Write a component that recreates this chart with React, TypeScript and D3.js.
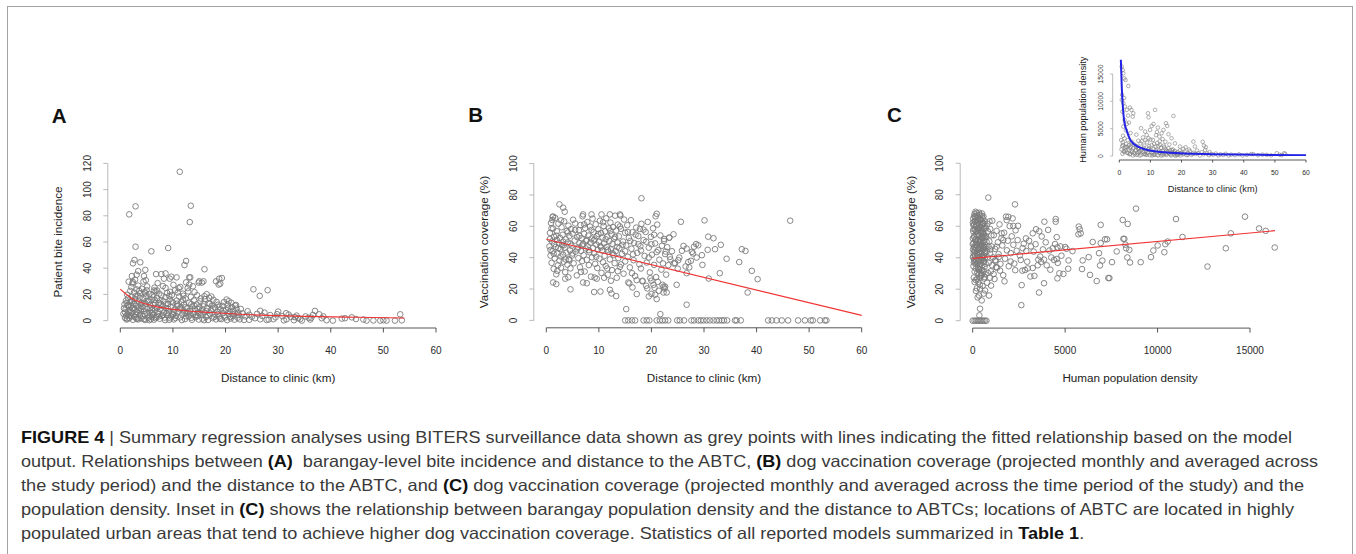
import React, { useEffect, useRef } from 'react';
import * as d3 from 'd3';

type Pt = [number, number];

// ---- axis ticks ----
const distTicks = [0, 10, 20, 30, 40, 50, 60];
const biteTicks = [0, 20, 40, 60, 80, 100, 120];
const coverTicks = [0, 20, 40, 60, 80, 100];
const densTicks = [0, 5000, 10000, 15000];

// ---- A: bite incidence vs distance ----
const bitePoints: Pt[] = [
  [11.3, 113.6], [2.9, 87.2], [1.7, 81.1], [13.4, 87.7], [13.2, 75.2], [2.9, 56.4], [5.9, 52.9], [9.1, 55.4],
  [2.7, 46.3], [2.4, 43.7], [3.8, 44.5], [4.75, 38.7], [12.5, 45.5], [12.2, 42.4], [16.0, 39.2], [8.6, 36],
  [7.8, 35.5], [10.7, 33], [9.4, 32], [13.1, 33], [18.8, 32], [18.2, 30], [18.7, 27.5], [14.9, 29], [15.5, 29],
  [25.3, 23.9], [26.5, 18.9], [28.0, 23.2], [3.4, 37.8], [3.1, 35], [2.2, 34], [4.5, 34], [4.85, 30.8], [1.6, 29.7],
  [2.4, 29.5], [6.8, 35.5], [8.3, 32], [9.7, 33.5], [12.5, 29.2], [13.3, 33], [13.1, 27.5], [15.0, 30], [15.8, 30],
  [19.3, 32.5], [19.0, 28.2], [16.0, 18.6], [16.9, 17.3], [20.6, 14.8], [21.8, 11.5], [7.0, 23], [6.4, 23],
  [8.6, 25], [9.5, 22], [11.1, 24.8],
  [53.2, 4.8], [53.5, 0.2], [52.2, 0], [50.6, 0], [50.0, 0.3], [49.4, 0], [48.1, 0.1], [46.8, 0], [46.2, 0.8],
  [44.8, 1.2], [44.0, 2.5], [42.7, 1.8], [42.1, 1.5], [40.4, 0], [39.2, 0.3], [38.3, 1.8], [37.0, 7.4], [36.6, 4.3],
  [36.1, 0.8], [34.5, 0], [33.8, 1.8], [33.2, 2.6], [32.4, 2.8], [31.6, 1.0], [31.5, 5.6], [30.0, 6.9], [29.1, 1.1],
  [27.8, 0.5], [26.6, 7.5], [26.6, 1], [25.6, 1.8], [24.5, 4.5], [24.5, 0.6], [27.0, 3.5], [28.5, 4.2], [29.5, 2.5],
  [30.8, 3.4], [32.0, 4.6], [33.5, 3.8], [34.2, 1.2], [35.2, 3.2], [35.8, 2.1], [37.8, 4.8], [38.6, 3.2], [36.3, 2.2],
  [31.1, 0.2], [28.2, 0.8], [26.0, 5.2], [25.0, 2.9], [27.4, 6.1], [29.8, 4.9], [33.0, 0.3], [23.8, 3.2], [24.2, 7.2],
  [23.5, 0.5], [22.9, 8.9], [23.2, 5.5],
  [0.6, 5.2], [0.8, 12.4], [0.9, 2.1], [1.0, 8.7], [1.1, 15.3], [1.2, 0.8], [1.3, 19.8], [1.4, 4.6], [1.5, 10.9],
  [1.6, 6.8], [1.7, 1.9], [1.8, 14.2], [1.9, 22.7], [2.0, 3.3], [1.2, 13.6], [0.7, 9.4], [1.5, 17.1], [1.9, 7.9],
  [2.0, 11.6], [1.1, 3.8], [2.1, 25.6], [2.2, 18.3], [2.3, 5.9], [2.4, 0.6], [2.5, 13.1], [2.6, 21.4], [2.7, 8.2],
  [2.8, 16.5], [2.9, 2.7], [3.0, 11.3], [3.1, 23.8], [3.2, 6.4], [3.3, 19.1], [3.4, 0.9], [3.5, 14.6], [3.6, 9.7],
  [3.7, 4.2], [3.8, 20.9], [3.9, 12.3], [4.0, 1.6], [2.3, 28.4], [2.8, 31.2], [3.4, 26.7], [3.7, 17.6], [2.5, 9.9],
  [3.0, 4.8], [3.9, 7.2], [2.2, 14.9], [4.1, 24.3], [4.2, 10.5], [4.3, 3.4], [4.4, 16.8], [4.5, 7.3], [4.6, 21.7],
  [4.7, 0.5], [4.8, 12.9], [4.9, 18.7], [5.0, 5.6], [5.1, 26.1], [5.2, 9.1], [5.3, 2.2], [5.4, 14.4], [5.5, 20.3],
  [5.6, 6.9], [5.7, 11.8], [5.8, 1.1], [5.9, 16.2], [6.0, 8.4], [4.4, 29.8], [5.0, 23.2], [4.6, 13.8], [5.6, 3.9],
  [6.1, 19.6], [6.2, 4.5], [6.3, 12.1], [6.4, 0.7], [6.5, 15.7], [6.6, 7.6], [6.7, 22.4], [6.8, 2.9], [6.9, 10.2],
  [7.0, 17.3], [7.2, 5.1], [7.4, 13.4], [7.5, 1.4], [7.6, 8.9], [7.8, 19.2], [7.9, 3.6], [8.0, 11.1], [8.2, 14.8],
  [8.3, 6.2], [8.5, 0.4], [8.6, 17.9], [8.7, 9.5], [8.9, 21.1], [9.0, 4.1], [6.5, 25.2], [7.1, 28.6], [8.1, 26.4],
  [7.7, 12.6], [9.1, 12.7], [9.2, 7.1], [9.4, 16.1], [9.5, 1.8], [9.6, 10.4], [9.8, 19.5], [9.9, 5.3], [10.0, 13.9],
  [10.2, 0.9], [10.3, 8.3], [10.4, 23.1], [10.6, 3.7], [10.7, 15.2], [10.9, 6.6], [11.0, 11.5], [11.2, 18.4],
  [11.3, 2.4], [11.5, 9.8], [11.6, 14.1], [11.8, 4.7], [11.9, 20.6], [12.0, 7.8], [10.1, 27.3], [11.4, 25.7],
  [9.7, 3.1], [10.8, 10.9], [12.1, 12.2], [12.3, 1.2], [12.4, 16.9], [12.6, 5.8], [12.7, 9.4], [12.9, 22.3],
  [13.0, 3.1], [13.1, 13.6], [13.3, 7.4], [13.4, 18.1], [13.6, 0.6], [13.7, 10.8], [13.9, 5.2], [14.0, 15.4],
  [14.2, 8.6], [14.3, 2.6], [14.5, 12.4], [14.6, 19.3], [14.8, 6.3], [14.9, 0.8], [15.0, 10.1], [12.8, 24.8],
  [13.8, 26.2], [14.4, 4.1], [15.2, 14.7], [15.3, 4.4], [15.5, 8.1], [15.6, 1.5], [15.8, 12.8], [16.0, 6.1],
  [16.1, 16.4], [16.3, 2.8], [16.5, 9.3], [16.7, 0.5], [16.8, 13.2], [17.0, 5.4], [17.2, 7.9], [17.4, 11.4],
  [17.5, 1.9], [17.7, 15.9], [17.9, 4.6], [18.0, 9.9], [18.2, 0.9], [18.4, 6.8], [18.6, 12.1], [18.8, 3.2],
  [19.0, 8.5], [16.4, 20.2], [17.3, 18.4], [19.2, 1.1], [19.4, 11.2], [19.5, 5.7], [19.7, 14.1], [19.9, 2.4],
  [20.1, 8.1], [20.3, 0.4], [20.4, 12.3], [20.6, 4.9], [20.8, 6.9], [21.0, 1.6], [21.2, 10.3], [21.4, 3.5],
  [21.5, 7.4], [21.7, 0.7], [21.9, 5.6], [22.1, 9.1], [22.3, 2.2], [22.5, 4.3], [22.7, 1.0], [21.1, 13.6],
  [20.2, 16.1], [22.4, 6.2], [1.3, 1.5], [2.6, 3.1], [3.3, 2.0], [4.5, 1.2], [5.5, 0.3], [6.7, 1.9], [7.3, 3.2],
  [8.4, 2.3], [9.3, 0.6], [10.5, 2.0], [11.7, 0.4], [12.5, 3.3], [13.5, 2.1], [14.7, 3.5], [15.9, 0.3], [16.6, 3.9],
  [17.8, 2.7], [18.9, 1.6], [19.8, 3.8], [20.9, 2.8], [6.0, 2.6], [8.8, 5.7], [12.2, 6.1], [15.1, 5.9], [2.0, 6.2],
  [4.0, 8.8], [7.0, 9.8], [10.0, 4.4], [13.2, 4.8], [18.5, 5.0],
  [0.9, 6.3], [1.4, 11.8], [1.8, 3.9], [2.3, 9.4], [2.7, 12.7], [3.1, 1.3], [3.5, 7.7], [4.1, 13.6], [4.6, 4.9],
  [5.2, 15.1], [5.6, 9.6], [6.1, 5.8], [6.6, 13.1], [7.1, 7.0], [7.6, 15.6], [8.1, 4.3], [8.6, 12.4], [9.1, 9.1],
  [9.7, 14.6], [10.2, 6.2], [10.8, 12.9], [11.3, 8.7], [11.9, 15.9], [12.4, 10.3], [12.9, 6.9], [13.5, 12.6],
  [14.1, 11.2], [14.7, 9.0], [15.3, 16.9], [15.8, 10.8], [16.4, 7.1], [17.0, 12.8], [17.6, 9.1], [18.3, 14.3],
  [18.8, 10.6], [19.6, 7.8], [20.5, 9.7], [21.3, 5.1], [22.0, 11.9], [2.9, 18.6], [4.8, 20.8], [6.3, 17.8],
  [9.3, 18.9], [12.0, 19.0], [14.1, 21.7], [3.6, 22.6], [7.4, 20.6], [10.9, 21.4],
];
const biteFit: Pt[] = [
  [0, 24], [1, 20.5], [2, 17.5], [3, 15.3], [5, 12.5], [7, 10.5], [10, 8.6], [13, 7.3], [17, 6.2],
  [22, 5.0], [28, 4.0], [35, 3.2], [45, 2.5], [54, 2.0],
];

// ---- B: vaccination coverage vs distance ----
const coverDistPoints: Pt[] = [
  [2.5, 74], [3.2, 71.9], [3.5, 69.3], [18.1, 77.9], [21, 68], [20.8, 66.4], [4.6, 19.8], [9.1, 18.1], [10.3, 18.4],
  [12.1, 19.5], [12.4, 17.2], [13.3, 15.5], [17.2, 16.8], [15.2, 7.2], [21.7, 4.0], [26.7, 10], [1.3, 24.2],
  [1.9, 23.2], [3.6, 26.6], [7.0, 24.2], [7.7, 23.7], [9.6, 26.6], [11.0, 27.2], [15.6, 24.2], [16.4, 21],
  [18.3, 25.3], [19.2, 20.4], [20.0, 25.3], [20.4, 22.7], [20.7, 16.4], [21.0, 13.6], [22.1, 22.7], [22.6, 21.5],
  [22.3, 17.8], [1.3, 66.2], [1.15, 64], [7.0, 67.6], [8.6, 67.6], [10.5, 67.6], [12.1, 67.6], [14.0, 67.6],
  [25.6, 62.9], [30.1, 63.8], [46.4, 63.6], [30.8, 53.4], [31.8, 52.4], [33.2, 48.2], [32.1, 45.4], [30.7, 45],
  [37.2, 45.4], [37.9, 44.3], [34.3, 39.3], [36.7, 37.2], [39.1, 31.6], [40.2, 26.3], [38.3, 17.8], [33.0, 30.1],
  [30.9, 26.7], [29.7, 35.4], [29.6, 41.6], [28.6, 40.1], [27.9, 42.7], [28.5, 48.7], [28.1, 47], [27, 37.2],
  [27.5, 38], [26.7, 30.1], [26.5, 34.4], [25.8, 44.4], [26.7, 45.8], [27.7, 43.7], [24.2, 54.9], [23.4, 52.8],
  [22.4, 50.7], [22.7, 43.9], [24.3, 36.3], [23.5, 40.5], [26.1, 47.5], [25, 33], [27.2, 33.8], [28.9, 47.9],
  [15.0, 0], [15.6, 0], [16.3, 0], [16.9, 0], [18.5, 0], [19.1, 0], [19.6, 0], [21.0, 0], [21.6, 0], [22.1, 0],
  [22.6, 0], [23.2, 0], [24.9, 0], [25.4, 0], [26.2, 0], [27.6, 0], [28.1, 0], [28.9, 0], [29.4, 0], [29.9, 0],
  [30.5, 0], [31.1, 0], [31.8, 0], [32.4, 0], [32.9, 0], [33.4, 0], [33.8, 0], [34.4, 0], [35.9, 0], [36.2, 0],
  [37.0, 0], [42.2, 0], [42.9, 0], [43.8, 0], [44.8, 0], [46.0, 0], [47.9, 0], [49.2, 0], [50.3, 0], [50.7, 0],
  [52.1, 0], [53.0, 0], [53.3, 0],
  [0.6, 47.2], [0.7, 55.8], [0.8, 41.3], [0.9, 62.1], [1.0, 36.7], [1.1, 50.4], [1.2, 44.1], [1.3, 58.6],
  [1.4, 32.9], [1.5, 53.2], [1.6, 39.5], [1.7, 65.3], [1.8, 46.8], [1.9, 29.4], [2.0, 56.9], [2.1, 42.6],
  [2.2, 35.1], [2.3, 61.7], [2.4, 49.3], [2.5, 38.2], [2.6, 52.7], [2.7, 45.5], [2.8, 33.6], [2.9, 59.4],
  [3.0, 48.1], [0.8, 44.9], [1.2, 66.1], [1.5, 48.6], [2.0, 51.3], [2.7, 40.8], [3.1, 54.6], [3.2, 41.9],
  [3.3, 37.4], [3.4, 63.2], [3.5, 46.3], [3.6, 30.8], [3.7, 51.7], [3.8, 43.2], [3.9, 57.1], [4.0, 35.6],
  [4.1, 49.8], [4.2, 60.4], [4.3, 39.1], [4.4, 53.9], [4.5, 44.7], [4.6, 33.2], [4.7, 58.2], [4.8, 47.6],
  [4.9, 41.4], [5.0, 55.3], [5.2, 36.4], [5.4, 50.9], [5.5, 61.8], [5.6, 43.9], [5.8, 28.7], [5.9, 53.1],
  [6.0, 46.5], [3.3, 47.9], [4.4, 38.3], [5.1, 64.2], [6.1, 39.7], [6.2, 57.6], [6.3, 49.2], [6.4, 33.9],
  [6.5, 60.8], [6.6, 44.3], [6.7, 52.4], [6.8, 37.8], [6.9, 66.4], [7.0, 48.7], [7.1, 41.6], [7.2, 55.2],
  [7.3, 31.2], [7.4, 58.9], [7.5, 45.9], [7.6, 50.6], [7.7, 38.6], [7.8, 62.7], [7.9, 47.1], [8.0, 54.1],
  [8.1, 35.3], [8.2, 43.5], [8.3, 59.9], [8.4, 49.6], [8.5, 27.9], [8.6, 52.2], [8.7, 40.2], [8.8, 64.9],
  [8.9, 46.2], [9.0, 56.3], [9.1, 42.8], [9.2, 51.6], [9.3, 36.1], [9.4, 61.3], [9.5, 48.4], [9.6, 53.7],
  [9.7, 33.4], [9.8, 45.1], [9.9, 58.1], [10.0, 50.1], [10.1, 39.4], [10.2, 63.6], [10.3, 47.4], [10.4, 55.7],
  [10.5, 30.3], [10.6, 44.6], [10.7, 52.9], [10.8, 37.1], [10.9, 60.2], [11.0, 49.1], [11.1, 41.2], [11.2, 56.8],
  [11.3, 34.7], [11.4, 65.1], [11.5, 46.9], [11.6, 53.4], [11.7, 29.1], [11.8, 43.8], [11.9, 58.7], [12.0, 50.6],
  [12.1, 38.9], [12.2, 62.4], [12.3, 45.3], [12.4, 54.8], [12.5, 32.1], [12.6, 48.9], [12.7, 59.5], [12.8, 41.8],
  [12.9, 52.1], [13.0, 36.5], [13.1, 66.8], [13.2, 44.2], [13.3, 57.3], [13.4, 27.2], [13.5, 49.7], [13.6, 61.1],
  [13.7, 39.8], [13.8, 53.6], [13.9, 46.1], [14.0, 34.1], [14.2, 58.4], [14.4, 42.4], [14.6, 50.3], [14.8, 64.3],
  [15.0, 37.6], [12.3, 25.3], [13.6, 31.4], [14.1, 66.9], [14.7, 29.8], [15.0, 55.9], [15.2, 47.8], [15.4, 60.7],
  [15.5, 40.6], [15.7, 52.6], [15.9, 33.8], [16.1, 63.9], [16.2, 45.7], [16.4, 56.2], [16.6, 38.4], [16.7, 49.4],
  [16.9, 28.3], [17.1, 59.2], [17.3, 43.1], [17.5, 53.8], [17.7, 35.8], [17.9, 47.3], [18.1, 61.6], [18.3, 24.9],
  [18.5, 51.2], [18.7, 41.1], [15.8, 23.6], [16.3, 30.1], [17.2, 25.7], [17.8, 58.3], [18.0, 33.1], [18.9, 56.4],
  [19.1, 36.9], [19.3, 62.8], [19.5, 46.4], [19.7, 30.6], [19.9, 53.3], [20.1, 41.9], [20.3, 58.7], [20.5, 35.4],
  [20.7, 49.1], [20.9, 27.6], [21.1, 61.1], [21.3, 44.8], [21.5, 38.7], [21.7, 54.2], [21.9, 32.4], [19.0, 22.1],
  [19.8, 26.9], [20.6, 20.8], [21.4, 18.9], [21.2, 24.6], [20.0, 16.9], [19.5, 15.3], [22.0, 47.6], [22.2, 36.3],
  [22.4, 51.9], [22.6, 42.3], [22.8, 29.2], [23.0, 46.7], [23.2, 35.2], [23.4, 52.8], [23.6, 38.9], [23.9, 44.1],
  [24.5, 36.6], [24.8, 22.7], [25.1, 38.4], [25.3, 40.1], [22.3, 21.5], [22.9, 17.8], [22.5, 20.3],
  [0.7, 51.9], [1.0, 58.7], [1.4, 42.5], [1.9, 54.1], [2.3, 46.1], [2.8, 63.8], [3.2, 50.2], [3.7, 38.9],
  [4.1, 56.1], [4.6, 48.9], [5.0, 42.7], [5.5, 57.6], [5.9, 45.3], [6.3, 53.9], [6.8, 47.8], [7.2, 61.2],
  [7.7, 51.4], [8.1, 44.8], [8.6, 57.7], [9.0, 50.9], [9.5, 40.6], [9.9, 55.1], [10.4, 46.5], [10.8, 62.6],
  [11.3, 51.8], [11.7, 45.1], [12.2, 57.1], [12.6, 42.9], [13.1, 53.2], [13.5, 46.8], [14.0, 59.9], [14.5, 48.2],
  [15.0, 44.1], [15.5, 56.4], [16.0, 50.7], [16.5, 42.1], [17.0, 54.7], [17.5, 48.6], [18.0, 44.6], [18.5, 57.9],
  [19.0, 50.2], [19.5, 40.1], [20.0, 48.5], [20.5, 54.6], [21.0, 43.6], [6.6, 30.9], [9.2, 27.3], [11.6, 33.1],
  [14.2, 35.7], [4.2, 27.5], [2.1, 31.6],
];
const coverDistFit: Pt[] = [[0, 51.7], [60, 3.2]];

// ---- C: vaccination coverage vs population density ----
const coverDensPoints: Pt[] = [
  [20, 45.2], [50, 58.1], [80, 38.7], [110, 63.4], [140, 51.6], [170, 33.2], [200, 47.9], [230, 66.8], [260, 42.1],
  [290, 55.3], [320, 29.8], [350, 61.7], [380, 49.4], [410, 36.5], [440, 57.2], [470, 44.3], [500, 68.1], [530, 39.8],
  [560, 52.7], [590, 31.6], [620, 46.9], [650, 60.2], [30, 64.9], [60, 27.4], [90, 53.1], [120, 41.5], [150, 69.2],
  [180, 56.6], [210, 35.9], [240, 48.8], [270, 62.6], [300, 24.7], [330, 43.6], [360, 54.4], [390, 67.3], [420, 32.8],
  [450, 50.3], [480, 40.7], [510, 58.9], [540, 22.1], [570, 46.2], [600, 37.4], [630, 53.8], [660, 63.1], [10, 52.3],
  [40, 34.6], [70, 46.7], [100, 67.9], [130, 57.8], [160, 25.9], [190, 61.4], [220, 43.1], [250, 30.7], [280, 50.9],
  [310, 65.6], [340, 38.2], [370, 47.3], [400, 59.6], [430, 28.4], [460, 63.9], [490, 53.5], [520, 35.1], [550, 44.9],
  [580, 66.2], [610, 41.2], [640, 34.2], [680, 48.1], [15, 40.3], [45, 49.2], [75, 61.1], [105, 31.2], [135, 44.8],
  [165, 65.4], [195, 52.1], [225, 20.6], [255, 58.4], [285, 37.6], [315, 45.8], [345, 68.6], [375, 34.3], [405, 51.2],
  [435, 42.4], [465, 56.1], [495, 29.1], [525, 62.2], [555, 49.6], [585, 55.4], [615, 26.8], [645, 45.7], [25, 56.9],
  [55, 42.9], [85, 66.4], [115, 37.1], [145, 48.3], [175, 18.9], [205, 60.3], [235, 53.9], [265, 14.8], [295, 41.6],
  [325, 57.6], [355, 49.9], [385, 22.9], [415, 64.3], [445, 39.2], [475, 47.5], [505, 32.2], [535, 55.9], [565, 61.9],
  [595, 17.2], [625, 50.6], [655, 39.9], [690, 29.4],
  [5, 48.6], [35, 60.8], [65, 36.9], [95, 44.4], [125, 62.8], [155, 39.1], [185, 50.2], [215, 68.4], [245, 26.6],
  [275, 45.3], [305, 58.7], [335, 32.3], [365, 64.5], [395, 43.2], [425, 55.8], [455, 30.2], [485, 60.7], [515, 47.2],
  [545, 64.9], [575, 38.1], [605, 58.3], [635, 44.2], [665, 52.9], [700, 36.2], [12, 62.3], [42, 40.9], [72, 53.6],
  [102, 24.6], [132, 66.2], [162, 46.5], [192, 37.8], [222, 56.9], [252, 64.1], [282, 33.4], [312, 51.5], [342, 42.8],
  [372, 59.1], [402, 27.3], [432, 48.4], [462, 38.4], [492, 66.5], [522, 52.4], [552, 40.6], [582, 61.6], [612, 54.7],
  [642, 27.8], [672, 43.5], [710, 58.6], [750, 50.1], [800, 40.3], [820, 56.8], [860, 47.1], [910, 63.1], [960, 45.3],
  [1010, 54.2],
  [0, 0], [100, 0], [180, 0], [260, 0], [340, 0], [420, 0], [500, 0], [580, 0], [660, 0], [740, 0],
  [344, 16], [398, 20.3], [668, 19.2], [488, 12.9], [398, 7.6], [362, 3.4], [884, 16], [992, 22.3], [938, 27.3],
  [720, 53.4], [760, 44.1], [790, 61.6], [845, 78.2], [870, 36.8], [900, 50.4], [950, 58.2], [980, 31.4], [1020, 47.2],
  [1060, 63.5], [1100, 40.2], [1140, 54.3], [1180, 26.5], [1210, 45.6], [1250, 38.3], [1290, 57.1], [1320, 33.7],
  [1360, 49.8], [1400, 42.3], [1450, 61.2], [1500, 36.1], [1550, 52.4], [1600, 47.8], [1650, 28.9], [1700, 55.9],
  [1750, 39.4], [1800, 66.1], [1850, 44.7], [1900, 50.8], [1950, 34.6], [2000, 60.1], [2060, 42.9], [2110, 53.6],
  [2160, 65], [2200, 48.2], [2250, 36.3], [2288, 73.9], [2320, 57.4], [2380, 44.4], [2430, 51.2], [1297, 47],
  [1405, 40.4], [1261, 34], [938, 42.6], [1208, 38.3], [1567, 55.5], [1657, 51.3], [1927, 66], [1837, 63.9],
  [2198, 60.2], [2450, 60.3], [780, 24.1], [820, 30.4], [1050, 35.2], [1130, 29.6], [1480, 31.8], [1720, 25],
  [2050, 37.6], [2300, 32.1],
  [2631, 9.9], [2649, 22.6], [2829, 32.2], [2974, 33.2], [2685, 31.8], [3121, 28.1], [3337, 28.5], [2550, 41.5],
  [2700, 46.1], [2760, 48.9], [2900, 44.3], [3050, 50.8], [3150, 47.2], [3247, 55.5], [3300, 43.9], [3427, 58.1],
  [3517, 35.2], [3589, 17.9], [3650, 40.8], [3734, 53.5], [3800, 45.3], [3860, 38.8], [3860, 23.8], [3878, 62.9],
  [3950, 49.8], [4004, 35.2], [4080, 57.7], [4148, 44.6], [4250, 40.2], [4329, 46], [4401, 38.6], [4455, 48.7],
  [4490, 64.6], [4490, 62.9], [4544, 53.1], [4544, 39.2], [4581, 46.6], [4600, 36.7], [4689, 30.1], [4581, 26.9],
  [4905, 29.7], [4750, 47.2], [4800, 41.3], [2600, 38.6], [2950, 37.5], [3550, 38.8], [3700, 37.3], [3250, 33.5],
  [4200, 32.4], [3400, 48.6], [2880, 52.3], [3600, 56.8],
  [5003, 46.8], [5075, 45.7], [5166, 33], [5184, 38.3], [5400, 44.2], [5718, 54.9], [5844, 55.5], [5736, 59.8],
  [5790, 58.1], [5913, 32.8], [5949, 38.3], [6274, 40.4], [6346, 29.1], [6490, 50], [6707, 25.2], [6833, 42.9],
  [6887, 35.1], [6923, 49.3], [6923, 60.9], [7013, 38.2], [7157, 51.7], [7264, 51.7], [7339, 27.1], [7393, 27.1],
  [7537, 37.2], [7789, 44], [8114, 64], [8150, 52], [8204, 52], [8260, 48.3], [8300, 46], [8366, 40.2], [8384, 61.5],
  [8474, 45], [8510, 37], [8833, 71.2], [9086, 37.2], [9645, 40.4], [9771, 44.6], [10005, 47.8], [10366, 43.5],
  [10420, 48.6], [10546, 50.3], [10997, 64.6], [11348, 53.2], [12700, 34.4], [13692, 46], [13962, 55.5],
  [14729, 66.1], [15490, 58.6], [15850, 57.1], [16337, 46.5],
];
const coverDensFit: Pt[] = [[0, 39.6], [16350, 57.2]];

// ---- C inset: population density vs distance ----
const insetPoints: Pt[] = [
  [0.77, 16340], [1.1, 15730], [1.3, 15120], [1.6, 14200], [2.0, 13900], [2.9, 12800], [0.8, 10250], [1.3, 9650],
  [1.8, 9040], [2.4, 8430], [3.4, 8860], [3.9, 8430], [4.5, 7820], [4.3, 7210], [1.7, 6600], [2.4, 5870], [1.3, 5380],
  [7.0, 5080], [9.2, 7820], [9.4, 7080], [11.5, 8430], [17.4, 7330], [15.0, 5990], [15.4, 5500], [14.2, 4770],
  [13.6, 4160], [12.9, 3550], [15.8, 3980], [10.4, 5500], [11.0, 5870], [9.9, 4770], [8.8, 3860], [8.3, 4470],
  [9.4, 3250], [10.8, 2940], [13.1, 2030], [16.8, 3250], [23.8, 2640], [24.3, 1730], [19.5, 1730], [20.6, 1300],
  [0.9, 11200], [1.5, 10600], [1.0, 8100], [2.8, 7400], [3.1, 6100], [2.1, 4700], [3.6, 4200], [1.2, 3700],
  [5.5, 3900], [6.1, 2800], [7.6, 3400], [12.1, 4400], [11.8, 3800], [13.9, 3100], [12.4, 5200], [14.8, 2600],
  [17.9, 2300], [16.1, 2100],
  [0.6, 2900], [0.9, 1800], [1.1, 2500], [1.4, 900], [1.7, 3200], [1.9, 1500], [2.2, 2200], [2.5, 600], [2.7, 2900],
  [3.0, 1200], [3.2, 2000], [3.5, 400], [3.7, 1700], [4.0, 2600], [4.2, 800], [4.5, 1400], [4.8, 2100], [5.0, 300],
  [5.3, 1100], [5.6, 1800], [5.9, 500], [6.2, 1500], [6.5, 900], [6.8, 2300], [7.1, 200], [7.4, 1200], [7.7, 700],
  [8.0, 1900], [8.3, 400], [8.6, 1000], [8.9, 2500], [9.2, 600], [9.5, 1400], [9.8, 150], [10.1, 1100], [10.4, 2000],
  [10.7, 500], [11.0, 1300], [11.3, 300], [11.6, 1700], [11.9, 800], [12.2, 2400], [12.5, 100], [12.8, 1000],
  [13.1, 600], [13.4, 1500], [13.7, 300], [14.0, 900], [14.3, 1900], [14.6, 500], [14.9, 1200], [15.2, 200],
  [15.5, 800], [15.8, 1400], [16.1, 400], [16.4, 1000], [16.7, 100], [17.0, 700], [17.3, 1200], [17.6, 300],
  [17.9, 900], [18.2, 500], [18.5, 150], [18.8, 700], [19.1, 350], [19.4, 1000], [19.7, 100], [20.0, 600],
  [1.0, 400], [2.0, 1000], [3.3, 300], [4.4, 100], [5.7, 200], [6.6, 100], [7.9, 350], [9.0, 250], [10.6, 100],
  [12.0, 200], [13.5, 50], [15.0, 350], [16.5, 250], [18.0, 50], [2.6, 1600], [3.8, 2300], [6.0, 1300], [7.2, 2700],
  [9.6, 1800], [11.2, 2200], [13.0, 2700], [14.5, 1600], [10.0, 3000], [8.4, 2900],
  [0.7, 1200], [1.2, 2000], [1.6, 700], [2.1, 1700], [2.9, 500], [3.4, 1500], [4.1, 1000], [4.7, 600], [5.4, 1600],
  [6.3, 700], [7.0, 1000], [7.8, 1500], [8.5, 200], [9.3, 1200], [10.3, 700], [11.1, 200], [11.8, 1100],
  [12.6, 1800], [13.3, 800], [14.2, 200], [15.1, 900], [15.9, 600], [16.9, 1100], [17.8, 600], [18.7, 250],
  [19.6, 500], [20.8, 450], [22.0, 200], [23.5, 400],
  [20.5, 300], [21.0, 800], [21.6, 150], [22.1, 500], [22.7, 900], [23.2, 200], [23.8, 600], [24.5, 350],
  [25.4, 510], [25.9, 100], [26.5, 700], [27.1, 300], [27.6, 1100], [28.2, 450], [28.8, 150], [29.5, 350],
  [30.2, 250], [31.0, 450], [31.8, 100], [32.5, 300], [33.4, 200], [34.2, 400], [35.1, 100], [36.0, 250],
  [37.2, 150], [38.5, 300], [39.6, 100], [41.0, 200], [42.4, 350], [43.1, 330], [44.6, 150], [46.0, 250],
  [47.4, 210], [48.8, 120], [50.6, 510], [51.5, 250], [53.0, 510], [53.3, 390], [52.2, 150], [26.8, 2600],
  [27.2, 1900], [27.8, 1600], [22.4, 1200], [21.3, 1600], [25.0, 1000], [29.0, 700],
];
const insetFit: Pt[] = [
  [0.5, 17600], [0.8, 12500], [1.2, 8500], [1.6, 6300], [2.4, 4600], [3.5, 3000], [4.5, 2300], [6, 1700],
  [8.7, 1150], [12, 830], [19.4, 500], [30, 330], [45, 220], [60, 160],
];

// ---- caption ----
type Seg = [string, boolean];
const captionLines: Seg[][] = [
  [['FIGURE 4', true], [' | Summary regression analyses using BITERS surveillance data shown as grey points with lines indicating the fitted relationship based on the model', false]],
  [['output. Relationships between ', false], ['(A)', true], ['  barangay-level bite incidence and distance to the ABTC, ', false], ['(B)', true], [' dog vaccination coverage (projected monthly and averaged across', false]],
  [['the study period) and the distance to the ABTC, and ', false], ['(C)', true], [' dog vaccination coverage (projected monthly and averaged across the time period of the study) and the', false]],
  [['population density. Inset in ', false], ['(C)', true], [' shows the relationship between barangay population density and the distance to ABTCs; locations of ABTC are located in highly', false]],
  [['populated urban areas that tend to achieve higher dog vaccination coverage. Statistics of all reported models summarized in ', false], ['Table 1', true], ['.', false]],
];
const captionWidths: (number | null)[] = [1271, 1297, 1283, 1273, null];

const FONT = '"Liberation Sans", Arial, Helvetica, sans-serif';

interface PanelProps {
  label?: string;
  labelX?: number;
  labelY?: number;
  xDomain: [number, number];
  xRange: [number, number];
  yDomain: [number, number];
  yRange: [number, number];
  xTicks: number[];
  yTicks: number[];
  xTitle: string;
  yTitle: string;
  xTitleX: number;
  yTitleY: number;
  points: Pt[];
  fit: Pt[];
  fitColor: string;
  fitWidth: number;
  yAxisGap: number;
  xAxisGap: number;
  tickLen: number;
  tickSize: number;
  titleSize: number;
  xTickBase: number;
  xTitleBase: number;
  yTickOff: number;
  yTitleOff: number;
  r: number;
  sw: number;
}

function Panel(p: PanelProps) {
  const x = d3.scaleLinear().domain(p.xDomain).range(p.xRange);
  const y = d3.scaleLinear().domain(p.yDomain).range(p.yRange);
  const line = d3.line<Pt>().x(d => x(d[0])).y(d => y(d[1])).curve(d3.curveMonotoneX);
  const yAxisX = p.xRange[0] - p.yAxisGap;
  const xAxisY = p.yRange[0] + p.xAxisGap;
  const xt = p.xTicks;
  const yt = p.yTicks;
  return (
    <g fontFamily={FONT}>
      {p.label && (
        <text x={p.labelX} y={p.labelY} fontSize={20.5} fontWeight="bold" fill="#111">{p.label}</text>
      )}
      <g fill="none" stroke="#7a7a7a" strokeWidth={p.sw}>
        {p.points.map((d, i) => (
          <circle key={i} cx={x(d[0])} cy={y(d[1])} r={p.r} />
        ))}
      </g>
      <path d={line(p.fit) || ''} fill="none" stroke={p.fitColor} strokeWidth={p.fitWidth} />
      <g stroke="#444" strokeWidth={0.9}>
        <line x1={x(xt[0])} x2={x(xt[xt.length - 1])} y1={xAxisY} y2={xAxisY} />
        {xt.map(t => (
          <line key={t} x1={x(t)} x2={x(t)} y1={xAxisY} y2={xAxisY + p.tickLen} />
        ))}
      </g>
      <g stroke="#a8a8a8" strokeWidth={0.8}>
        <line x1={yAxisX} x2={yAxisX} y1={y(yt[0])} y2={y(yt[yt.length - 1])} />
        {yt.map(t => (
          <line key={t} x1={yAxisX - p.tickLen} x2={yAxisX} y1={y(t)} y2={y(t)} />
        ))}
      </g>
      <g fontSize={p.tickSize} fill="#2a2a2a" textAnchor="middle">
        {xt.map(t => (
          <text key={t} x={x(t)} y={p.xTickBase}>{t}</text>
        ))}
        {yt.map(t => (
          <text key={t} transform={`translate(${yAxisX - p.yTickOff},${y(t)}) rotate(-90)`}>{t}</text>
        ))}
      </g>
      <g fontSize={p.titleSize} fill="#222" textAnchor="middle">
        <text x={p.xTitleX} y={p.xTitleBase}>{p.xTitle}</text>
        <text transform={`translate(${yAxisX - p.yTitleOff},${p.yTitleY}) rotate(-90)`}>{p.yTitle}</text>
      </g>
    </g>
  );
}

const mainStyle = {
  yAxisGap: 12.5, xAxisGap: 7.4, tickLen: 4.5, tickSize: 10, titleSize: 11.7,
  xTickBase: 353.5, xTitleBase: 382, yTickOff: 16.8, yTitleOff: 45.4, yTitleY: 242, r: 2.8, sw: 0.9,
  fitColor: '#f03434', fitWidth: 1.1,
};

export default function App() {
  const capRefs = useRef<(SVGTextElement | null)[]>([]);

  useEffect(() => {
    const els = capRefs.current;
    const first = els[0];
    if (!first) return;
    const natural0 = first.getComputedTextLength();
    const scale = (captionWidths[0] as number) / natural0;
    els.forEach((el, i) => {
      if (!el) return;
      const target = captionWidths[i] ?? el.getComputedTextLength() * scale;
      el.setAttribute('textLength', String(target));
      el.setAttribute('lengthAdjust', 'spacingAndGlyphs');
    });
  }, []);

  return (
    <svg width={1356} height={554} style={{ position: 'absolute', left: 0, top: 0, background: '#fff' }}>
      <rect x={0} y={0} width={1356} height={554} fill="#fff" />
      <rect x={7.5} y={6.5} width={1345} height={600} fill="none" stroke="#a3a3a3" strokeWidth={1} />

      <Panel {...mainStyle} label="A" labelX={51.7} labelY={122.5}
        xDomain={[0, 60]} xRange={[120.3, 436]} yDomain={[0, 120]} yRange={[320.6, 163.4]}
        xTicks={distTicks} yTicks={biteTicks} xTitle="Distance to clinic (km)" yTitle="Patient bite incidence"
        xTitleX={278.2} points={bitePoints} fit={biteFit} />

      <Panel {...mainStyle} label="B" labelX={468.3} labelY={122}
        xDomain={[0, 60]} xRange={[546.3, 861.7]} yDomain={[0, 100]} yRange={[320.4, 163.6]}
        xTicks={distTicks} yTicks={coverTicks} xTitle="Distance to clinic (km)" yTitle="Vaccination coverage (%)"
        xTitleX={704} points={coverDistPoints} fit={coverDistFit} />

      <Panel {...mainStyle} label="C" labelX={887} labelY={122}
        xDomain={[0, 15000]} xRange={[972.7, 1250]} yDomain={[0, 100]} yRange={[320.7, 163.3]}
        xTicks={densTicks} yTicks={coverTicks} xTitle="Human population density" yTitle="Vaccination coverage (%)"
        xTitleX={1130} points={coverDensPoints} fit={coverDensFit} />

      <Panel
        xDomain={[0, 60]} xRange={[1119.3, 1306]} yDomain={[0, 15000]} yRange={[156, 74]}
        xTicks={distTicks} yTicks={densTicks} xTitle="Distance to clinic (km)" yTitle="Human population density"
        xTitleX={1212.7} yTitleY={109.7} points={insetPoints} fit={insetFit} fitColor="#2323e6" fitWidth={2}
        yAxisGap={6.6} xAxisGap={4} tickLen={2.5} tickSize={6.8} titleSize={9.2}
        xTickBase={175.1} xTitleBase={192} yTickOff={9.5} yTitleOff={26.7} r={1.8} sw={0.6} />

      <g fontFamily={FONT} fontSize={16.5} fill="#3a3a3a">
        {captionLines.map((segs, i) => (
          <text key={i} ref={el => { capRefs.current[i] = el; }} x={21} y={442.5 + i * 24} xmlSpace="preserve">
            {segs.map(([t, b], j) => (
              <tspan key={j} fontWeight={b ? 'bold' : 'normal'} fill={b ? '#111' : '#3a3a3a'}>{t}</tspan>
            ))}
          </text>
        ))}
      </g>
    </svg>
  );
}
